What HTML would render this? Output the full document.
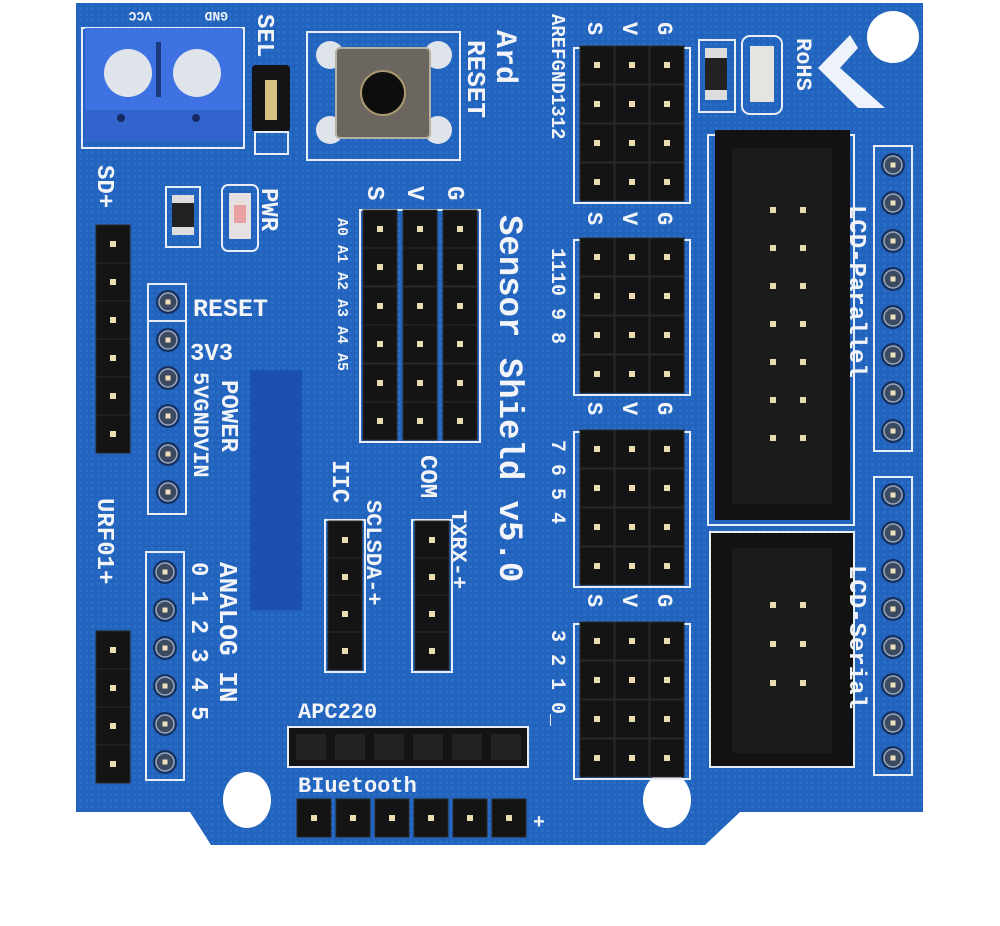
<!DOCTYPE html>
<html><head><meta charset="utf-8"><style>
html,body{margin:0;padding:0;background:#fff;}
svg{display:block;}
text{font-family:"Liberation Mono","DejaVu Sans Mono",monospace;fill:#f2f4f8;font-weight:bold;}
</style></head><body>
<svg width="1000" height="926" viewBox="0 0 1000 926" xmlns="http://www.w3.org/2000/svg">
<defs>
<pattern id="dots" width="6" height="6" patternUnits="userSpaceOnUse"><rect width="6" height="6" fill="#2263bd"/><rect x="1" y="1" width="3" height="3" fill="#2a6dc7"/></pattern>
<g id="pin"><rect x="-17" y="-19" width="34" height="38" fill="#141414" stroke="#2a2a2a"/><rect x="-3" y="-3" width="6" height="6" fill="#e8dcb0"/></g>
<g id="hole"><circle r="12" fill="#16305f"/><circle r="9" fill="#3b4a60" stroke="#9aa9bd" stroke-width="1.5"/><rect x="-2.5" y="-2.5" width="5" height="5" fill="#f0e0c0"/></g>
</defs>
<!-- board -->
<path d="M76 3 H923 V812 H740 L705 845 H211 L190 812 H76 Z" fill="url(#dots)"/>
<rect x="250" y="370" width="52" height="240" fill="#1b4fb0"/>
<circle cx="893" cy="37" r="26" fill="#fff"/>
<ellipse cx="247" cy="800" rx="24" ry="28" fill="#fff"/>
<ellipse cx="667" cy="800" rx="24" ry="28" fill="#fff"/>

<!-- terminal block -->
<rect x="82" y="28" width="162" height="120" fill="none" stroke="#e8eef8" stroke-width="2"/>
<rect x="85" y="28" width="157" height="113" fill="#3e72e2"/>
<rect x="85" y="110" width="157" height="31" fill="#3363cc"/>
<circle cx="128" cy="73" r="24" fill="#dfe3ea"/><circle cx="197" cy="73" r="24" fill="#dfe3ea"/>
<rect x="156" y="42" width="5" height="55" fill="#1c3a80"/>
<circle cx="121" cy="118" r="4" fill="#152a60"/><circle cx="196" cy="118" r="4" fill="#152a60"/>
<text x="164" y="12" font-size="13" transform="rotate(180 158 12)">VCC</text>
<text x="240" y="12" font-size="13" transform="rotate(180 234 12)">GND</text>
<text x="258" y="14" font-size="24" transform="rotate(90 258 14)">SEL</text>
<rect x="252" y="65" width="38" height="67" rx="4" fill="#141414"/>
<rect x="265" y="80" width="12" height="40" fill="#d8c080"/>
<rect x="255" y="132" width="33" height="22" fill="none" stroke="#e8eef8" stroke-width="2"/>

<!-- reset button -->
<rect x="307" y="32" width="153" height="128" fill="none" stroke="#e8eef8" stroke-width="2"/>
<circle cx="330" cy="55" r="14" fill="#dfe3ea"/><circle cx="438" cy="55" r="14" fill="#dfe3ea"/>
<circle cx="330" cy="130" r="14" fill="#dfe3ea"/><circle cx="438" cy="130" r="14" fill="#dfe3ea"/>
<rect x="336" y="48" width="94" height="90" rx="4" fill="#6c6660" stroke="#b8b0a0" stroke-width="2"/>
<circle cx="383" cy="93" r="22" fill="#0d0d0d" stroke="#a99870" stroke-width="2"/>
<text x="468" y="40" font-size="26" transform="rotate(90 468 40)">RESET</text>
<text x="497" y="30" font-size="30" font-weight="normal" transform="rotate(90 497 30)">Ard</text>
<text x="500" y="215" font-size="34" font-weight="normal" transform="rotate(90 500 215)">Sensor Shield v5.0</text>

<!-- PWR SMD -->
<rect x="166" y="187" width="34" height="60" fill="none" stroke="#e8eef8" stroke-width="2"/>
<rect x="172" y="195" width="22" height="40" fill="#222"/><rect x="172" y="195" width="22" height="8" fill="#ddd"/><rect x="172" y="227" width="22" height="8" fill="#ddd"/>
<rect x="222" y="185" width="36" height="66" rx="6" fill="none" stroke="#e8eef8" stroke-width="2"/>
<rect x="229" y="193" width="22" height="46" fill="#e6e0e0"/><rect x="234" y="205" width="12" height="18" fill="#e8a0a0"/>
<text x="262" y="188" font-size="24" transform="rotate(90 262 188)">PWR</text>

<!-- SD+ header -->
<text x="98" y="165" font-size="24" transform="rotate(90 98 165)">SD+</text>
<g transform="translate(113,0)"><use href="#pin" y="244"/><use href="#pin" y="282"/><use href="#pin" y="320"/><use href="#pin" y="358"/><use href="#pin" y="396"/><use href="#pin" y="434"/></g>

<!-- power strip -->
<rect x="148" y="284" width="38" height="230" fill="none" stroke="#e8eef8" stroke-width="2"/>
<line x1="148" y1="321" x2="186" y2="321" stroke="#e8eef8" stroke-width="2"/>
<g transform="translate(168,0)"><use href="#hole" y="302"/><use href="#hole" y="340"/><use href="#hole" y="378"/><use href="#hole" y="416"/><use href="#hole" y="454"/><use href="#hole" y="492"/></g>
<text x="193" y="316" font-size="25">RESET</text>
<text x="190" y="360" font-size="24">3V3</text>
<text x="194" y="372" font-size="22" transform="rotate(90 194 372)">5VGNDVIN</text>
<text x="222" y="380" font-size="24" transform="rotate(90 222 380)">POWER</text>

<!-- URF01 -->
<text x="98" y="498" font-size="24" transform="rotate(90 98 498)">URF01+</text>
<g transform="translate(113,0)"><use href="#pin" y="650"/><use href="#pin" y="688"/><use href="#pin" y="726"/><use href="#pin" y="764"/></g>
<!-- analog strip -->
<rect x="146" y="552" width="38" height="228" fill="none" stroke="#e8eef8" stroke-width="2"/>
<g transform="translate(165,0)"><use href="#hole" y="572"/><use href="#hole" y="610"/><use href="#hole" y="648"/><use href="#hole" y="686"/><use href="#hole" y="724"/><use href="#hole" y="762"/></g>
<text x="192" y="562" font-size="24" transform="rotate(90 192 562)">0 1 2 3 4 5</text>
<text x="220" y="562" font-size="26" transform="rotate(90 220 562)">ANALOG IN</text>

<!-- analog 3x6 header -->
<rect x="360" y="210" width="120" height="232" fill="none" stroke="#e8eef8" stroke-width="2"/>
<g><use href="#pin" x="380" y="229"/><use href="#pin" x="420" y="229"/><use href="#pin" x="460" y="229"/>
<use href="#pin" x="380" y="267"/><use href="#pin" x="420" y="267"/><use href="#pin" x="460" y="267"/>
<use href="#pin" x="380" y="306"/><use href="#pin" x="420" y="306"/><use href="#pin" x="460" y="306"/>
<use href="#pin" x="380" y="344"/><use href="#pin" x="420" y="344"/><use href="#pin" x="460" y="344"/>
<use href="#pin" x="380" y="383"/><use href="#pin" x="420" y="383"/><use href="#pin" x="460" y="383"/>
<use href="#pin" x="380" y="421"/><use href="#pin" x="420" y="421"/><use href="#pin" x="460" y="421"/></g>
<text x="368" y="186" font-size="24" transform="rotate(90 368 186)">S</text>
<text x="408" y="186" font-size="24" transform="rotate(90 408 186)">V</text>
<text x="448" y="186" font-size="24" transform="rotate(90 448 186)">G</text>
<text x="338" y="218" font-size="15" transform="rotate(90 338 218)">A0 A1 A2 A3 A4 A5</text>

<!-- IIC / COM -->
<text x="333" y="460" font-size="24" transform="rotate(90 333 460)">IIC</text>
<text x="367" y="500" font-size="22" transform="rotate(90 367 500)">SCLSDA-+</text>
<text x="421" y="455" font-size="24" transform="rotate(90 421 455)">COM</text>
<text x="452" y="510" font-size="22" transform="rotate(90 452 510)">TXRX-+</text>
<rect x="325" y="520" width="40" height="152" fill="none" stroke="#e8eef8" stroke-width="2"/>
<g transform="translate(345,0)"><use href="#pin" y="540"/><use href="#pin" y="577"/><use href="#pin" y="614"/><use href="#pin" y="651"/></g>
<rect x="412" y="520" width="40" height="152" fill="none" stroke="#e8eef8" stroke-width="2"/>
<g transform="translate(432,0)"><use href="#pin" y="540"/><use href="#pin" y="577"/><use href="#pin" y="614"/><use href="#pin" y="651"/></g>

<!-- APC220 / Bluetooth -->
<text x="298" y="718" font-size="22" font-weight="normal">APC220</text>
<rect x="288" y="727" width="240" height="40" fill="#141414" stroke="#e8eef8" stroke-width="2"/>
<g fill="#222"><rect x="296" y="734" width="30" height="26"/><rect x="335" y="734" width="30" height="26"/><rect x="374" y="734" width="30" height="26"/><rect x="413" y="734" width="30" height="26"/><rect x="452" y="734" width="30" height="26"/><rect x="491" y="734" width="30" height="26"/></g>
<text x="298" y="792" font-size="22" font-weight="normal">BIuetooth</text>
<g><use href="#pin" x="314" y="818"/><use href="#pin" x="353" y="818"/><use href="#pin" x="392" y="818"/><use href="#pin" x="431" y="818"/><use href="#pin" x="470" y="818"/><use href="#pin" x="509" y="818"/></g>
<text x="533" y="828" font-size="20">+</text>

<!-- digital header labels -->
<text x="552" y="14" font-size="19" transform="rotate(90 552 14)">AREFGND1312</text>
<text x="552" y="248" font-size="20" transform="rotate(90 552 248)">1110 9 8</text>
<text x="552" y="440" font-size="20" transform="rotate(90 552 440)">7 6 5 4</text>
<text x="552" y="630" font-size="20" transform="rotate(90 552 630)">3 2 1 0_</text>
<g font-size="22">
<text x="588" y="22" transform="rotate(90 588 22)">S</text><text x="623" y="22" transform="rotate(90 623 22)">V</text><text x="658" y="22" transform="rotate(90 658 22)">G</text>
<text x="588" y="212" transform="rotate(90 588 212)">S</text><text x="623" y="212" transform="rotate(90 623 212)">V</text><text x="658" y="212" transform="rotate(90 658 212)">G</text>
<text x="588" y="402" transform="rotate(90 588 402)">S</text><text x="623" y="402" transform="rotate(90 623 402)">V</text><text x="658" y="402" transform="rotate(90 658 402)">G</text>
<text x="588" y="594" transform="rotate(90 588 594)">S</text><text x="623" y="594" transform="rotate(90 623 594)">V</text><text x="658" y="594" transform="rotate(90 658 594)">G</text>
</g>
<g id="dg">
<rect x="574" y="48" width="116" height="155" fill="none" stroke="#e8eef8" stroke-width="2"/>
<use href="#pin" x="597" y="65"/><use href="#pin" x="632" y="65"/><use href="#pin" x="667" y="65"/>
<use href="#pin" x="597" y="104"/><use href="#pin" x="632" y="104"/><use href="#pin" x="667" y="104"/>
<use href="#pin" x="597" y="143"/><use href="#pin" x="632" y="143"/><use href="#pin" x="667" y="143"/>
<use href="#pin" x="597" y="182"/><use href="#pin" x="632" y="182"/><use href="#pin" x="667" y="182"/>
</g>
<use href="#dg" y="192"/><use href="#dg" y="384"/><use href="#dg" y="576"/>

<!-- SMD top right -->
<rect x="699" y="40" width="36" height="72" fill="none" stroke="#e8eef8" stroke-width="2"/>
<rect x="705" y="48" width="22" height="52" fill="#222"/><rect x="705" y="48" width="22" height="10" fill="#ddd"/><rect x="705" y="90" width="22" height="10" fill="#ddd"/>
<rect x="742" y="36" width="40" height="78" rx="8" fill="none" stroke="#e8eef8" stroke-width="2"/>
<rect x="750" y="46" width="24" height="56" fill="#e6e4e0"/>
<text x="797" y="38" font-size="22" font-weight="normal" transform="rotate(90 797 38)">RoHS</text>
<path d="M850 35 L818 68 L858 108 L885 108 L840 68 L858 48 Z" fill="#eef2fa"/>

<!-- LCD parallel -->
<rect x="708" y="135" width="146" height="390" fill="none" stroke="#e8eef8" stroke-width="2"/>
<rect x="715" y="130" width="135" height="390" fill="#121212"/>
<rect x="732" y="148" width="100" height="356" fill="#1b1b1b"/>
<g fill="#e8dcb0">
<rect x="770" y="207" width="6" height="6"/><rect x="800" y="207" width="6" height="6"/>
<rect x="770" y="245" width="6" height="6"/><rect x="800" y="245" width="6" height="6"/>
<rect x="770" y="283" width="6" height="6"/><rect x="800" y="283" width="6" height="6"/>
<rect x="770" y="321" width="6" height="6"/><rect x="800" y="321" width="6" height="6"/>
<rect x="770" y="359" width="6" height="6"/><rect x="800" y="359" width="6" height="6"/>
<rect x="770" y="397" width="6" height="6"/><rect x="800" y="397" width="6" height="6"/>
<rect x="770" y="435" width="6" height="6"/><rect x="800" y="435" width="6" height="6"/>
</g>
<!-- LCD serial -->
<rect x="710" y="532" width="144" height="235" fill="#121212" stroke="#e8eef8" stroke-width="2"/>
<rect x="732" y="548" width="100" height="205" fill="#1b1b1b"/>
<g fill="#e8dcb0"><rect x="770" y="602" width="6" height="6"/><rect x="800" y="602" width="6" height="6"/>
<rect x="770" y="641" width="6" height="6"/><rect x="800" y="641" width="6" height="6"/>
<rect x="770" y="680" width="6" height="6"/><rect x="800" y="680" width="6" height="6"/></g>
<text x="850" y="205" font-size="24" transform="rotate(90 850 205)">LCD-Parallel</text>
<text x="850" y="565" font-size="24" transform="rotate(90 850 565)">LCD-Serial</text>

<!-- right strips -->
<rect x="874" y="146" width="38" height="305" fill="none" stroke="#e8eef8" stroke-width="2"/>
<rect x="874" y="477" width="38" height="298" fill="none" stroke="#e8eef8" stroke-width="2"/>
<g transform="translate(893,0)">
<use href="#hole" y="165"/><use href="#hole" y="203"/><use href="#hole" y="241"/><use href="#hole" y="279"/><use href="#hole" y="317"/><use href="#hole" y="355"/><use href="#hole" y="393"/><use href="#hole" y="431"/>
<use href="#hole" y="495"/><use href="#hole" y="533"/><use href="#hole" y="571"/><use href="#hole" y="609"/><use href="#hole" y="647"/><use href="#hole" y="685"/><use href="#hole" y="723"/><use href="#hole" y="758"/>
</g>
</svg>
</body></html>
